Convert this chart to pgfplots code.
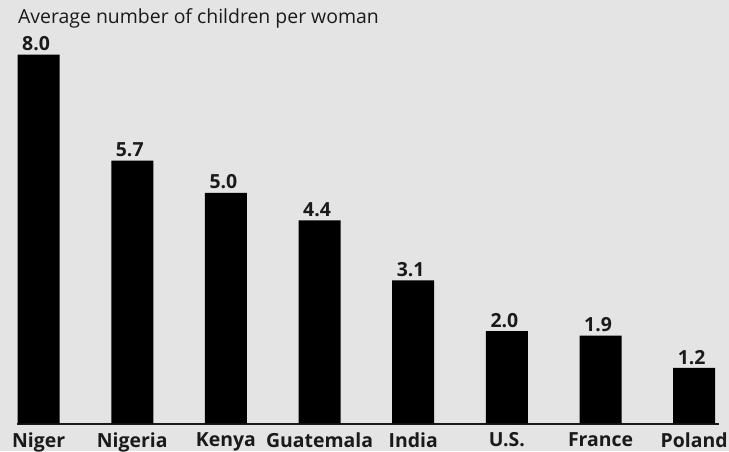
\documentclass[border=0pt]{standalone}
\usepackage{fontspec}
\setmainfont{Open Sans}
\usepackage{pgfplots}
\pgfplotsset{compat=1.18}
\definecolor{bg}{HTML}{E4E4E4}
\definecolor{txt}{HTML}{1A1A1A}
\begin{document}
\begin{tikzpicture}
\fill[bg] (0bp,0bp) rectangle (729bp,451bp);
\node[anchor=base west, inner sep=0pt, font=\fontsize{19.5}{22}\selectfont, text=txt] at (18bp,427bp) {Average number of children per woman};
\begin{axis}[
  at={(17bp,26.7bp)}, anchor=south west, scale only axis,
  width=702bp, height=383.6bp,
  xmin=-0.2306, xmax=7.265, ymin=-0.0217, ymax=8.3,
  axis x line=bottom, axis y line=none,
  x axis line style={-, line width=2bp, draw=txt},
  ybar, bar width=42bp,
  xtick=data,
  xticklabels={Niger,Nigeria,Kenya,Guatemala,India,U.S.,France,Poland},
  major tick length=0pt,
  xticklabel style={font=\bfseries\fontsize{19.5}{22}\selectfont, text=txt, inner sep=0pt, anchor=north, yshift=-8bp},
  ytick=\empty,
  /pgf/number format/assume math mode=true,
  nodes near coords={\pgfmathprintnumber[fixed,fixed zerofill,precision=1]{\pgfplotspointmeta}},
  nodes near coords style={font=\bfseries\fontsize{19.5}{22}\selectfont, text=txt, inner sep=0pt, anchor=south, yshift=3.5bp, xshift=-2.5bp},
  clip=false,
]
\addplot[fill=black, draw=none] coordinates {(0,8.0) (1,5.7) (2,5.0) (3,4.4) (4,3.1) (5,2.0) (6,1.9) (7,1.2)};
\end{axis}
\end{tikzpicture}
\end{document}
